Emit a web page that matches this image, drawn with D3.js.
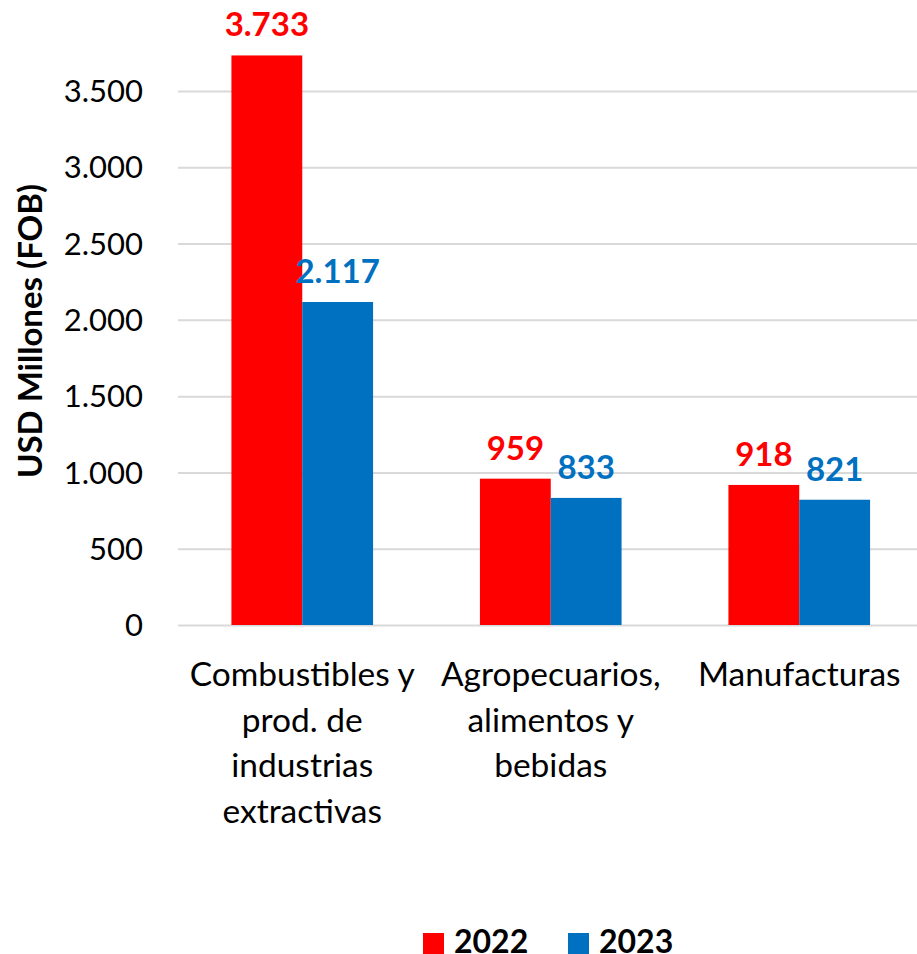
<!DOCTYPE html>
<html lang="es">
<head>
<meta charset="utf-8">
<title>Exportaciones por sector</title>
<script src="https://cdnjs.cloudflare.com/ajax/libs/d3/7.8.5/d3.min.js"></script>
<style>
  body { margin: 0; background: #fff; }
  svg { display: block; font-family: Lato, "Open Sans", sans-serif; }
  .grid line { stroke: #d9d9d9; stroke-width: 2; }
  .grid path { display: none; }
  .tick-label { font-size: 31px; fill: #000; }
  .cat-label { font-size: 33.5px; fill: #000; }
  .val-label { font-size: 33px; font-weight: bold; text-anchor: middle; }
</style>
</head>
<body>
<svg width="917" height="954"></svg>
<script>
// data
var categories = ["Combustibles", "Agropecuarios", "Manufacturas"];
var categoryLines = [
  ["Combustibles y", "prod. de", "industrias", "extractivas"],
  ["Agropecuarios,", "alimentos y", "bebidas"],
  ["Manufacturas"]
];
var years = ["2022", "2023"];
var values2022 = [3733, 959, 918];
var values2023 = [2117, 833, 821];
var yTicks = [0, 500, 1000, 1500, 2000, 2500, 3000, 3500];
var colors = ["#ff0000", "#0070c0"];

var svg = d3.select("svg");
var plotL = 178, plotR = 923.5, plotT = 91, plotB = 625;

var x = d3.scaleBand().domain(categories).range([plotL, plotR])
    .paddingInner(0.43).paddingOuter(0.215);
var xs = d3.scaleBand().domain(years).range([0, x.bandwidth()]);
var y = d3.scaleLinear().domain([0, 3500]).range([plotB, plotT]);

var fmt = function(v) { return d3.format(",")(v).replace(/,/g, "."); };

// gridlines
svg.append("g")
    .attr("class", "grid")
    .attr("transform", "translate(" + plotL + ",0)")
    .call(d3.axisRight(y).tickValues(yTicks).tickSize(917 - plotL).tickFormat(""));

// y tick labels
svg.append("g").selectAll("text")
  .data(yTicks)
  .enter().append("text")
    .attr("class", "tick-label")
    .attr("x", 143)
    .attr("y", function(d) { return y(d); })
    .attr("dy", "0.36em")
    .attr("text-anchor", "end")
    .text(function(d) { return fmt(d); });

// y title
svg.append("text")
    .attr("transform", "translate(30,331) rotate(-90)")
    .attr("text-anchor", "middle")
    .attr("dy", "0.35em")
    .style("font-size", "33px")
    .style("font-weight", "bold")
    .text("USD Millones (FOB)");

var series = [values2022, values2023];
series.forEach(function(vals, i) {
  var g = svg.append("g");
  g.selectAll("rect")
    .data(vals)
    .enter().append("rect")
      .attr("x", function(d, j) { return x(categories[j]) + xs(years[i]); })
      .attr("y", function(d) { return y(d); })
      .attr("width", xs.bandwidth())
      .attr("height", function(d) { return y(0) - y(d); })
      .attr("fill", colors[i]);
  g.selectAll("text")
    .data(vals)
    .enter().append("text")
      .attr("class", "val-label")
      .attr("x", function(d, j) { return x(categories[j]) + xs(years[i]) + xs.bandwidth() / 2; })
      .attr("y", function(d) { return y(d) - 19; })
      .attr("fill", colors[i])
      .text(function(d) { return fmt(d); });
});

// category labels
categoryLines.forEach(function(lines, j) {
  var cx = x(categories[j]) + x.bandwidth() / 2;
  var t = svg.append("text")
    .attr("class", "cat-label")
    .attr("text-anchor", "middle")
    .attr("x", cx)
    .attr("y", 686);
  lines.forEach(function(l, k) {
    t.append("tspan")
      .attr("x", cx)
      .attr("dy", k === 0 ? 0 : 45.5)
      .text(l);
  });
});

// legend
var legendX = [423, 568];
years.forEach(function(yr, i) {
  svg.append("rect")
    .attr("x", legendX[i]).attr("y", 933)
    .attr("width", 21).attr("height", 21)
    .attr("fill", colors[i]);
  svg.append("text")
    .attr("x", legendX[i] + 31).attr("y", 953)
    .style("font-size", "32px")
    .style("font-weight", "bold")
    .text(yr);
});
</script>
</body>
</html>
